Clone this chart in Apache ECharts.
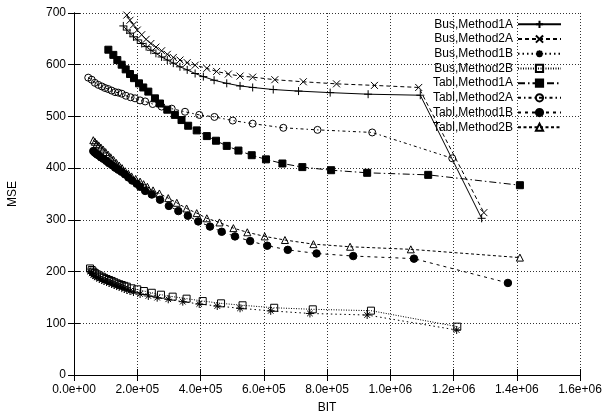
<!DOCTYPE html>
<html>
<head>
<meta charset="utf-8">
<script src="https://cdn.jsdelivr.net/npm/echarts@6/dist/echarts.min.js"></script>
<style>html,body{margin:0;padding:0;background:#fff}#c{width:606px;height:418px}</style>
</head>
<body>
<div id="c"></div>
<script>
const seriesNames = ['Bus,Method1A','Bus,Method2A','Bus,Method1B','Bus,Method2B','Tabl,Method1A','Tabl,Method2A','Tabl,Method1B','Tabl,Method2B'];
const xTickLabels = ['0.0e+00','2.0e+05','4.0e+05','6.0e+05','8.0e+05','1.0e+06','1.2e+06','1.4e+06','1.6e+06'];
const yTickLabels = ['0','100','200','300','400','500','600','700'];

const busM1A_bit = [1.56e5,1.67e5,1.77e5,1.88e5,2.0e5,2.14e5,2.28e5,2.43e5,2.59e5,2.77e5,2.95e5,3.14e5,3.35e5,3.58e5,3.83e5,4.09e5,4.43e5,4.83e5,5.25e5,5.65e5,6.3e5,7.1e5,8.1e5,9.3e5,1.095e6,1.289e6];
const busM1A_mse = [675,667,661,654,648,641,635,628,622,615,609,603,596,590,583,577,570,564,559,556,552,549,546,543,541,303];

const busM2A_bit = [1.67e5,1.77e5,1.88e5,2.0e5,2.14e5,2.28e5,2.43e5,2.59e5,2.77e5,2.95e5,3.14e5,3.35e5,3.58e5,3.83e5,4.2e5,4.51e5,4.88e5,5.25e5,5.65e5,6.35e5,7.25e5,8.3e5,9.5e5,1.09e6,1.296e6];
const busM2A_mse = [696,686,677,667,658,649,641,634,627,620,614,609,604,599,593,587,582,578,576,571,567,563,560,556,314];

const busM1B_bit = [5.06e4,5.6e4,6.1e4,6.6e4,7.2e4,8.0e4,8.8e4,9.5e4,1.03e5,1.11e5,1.19e5,1.27e5,1.35e5,1.43e5,1.51e5,1.59e5,1.67e5,1.77e5,1.88e5,2.09e5,2.35e5,2.63e5,2.98e5,3.44e5,3.96e5,4.53e5,5.25e5,6.22e5,7.46e5,9.27e5,1.21e6];
const busM1B_mse = [200,196.5,193.4,191,188.9,186,183.7,181.8,179.9,178,176,174,172,170.5,169,166.5,164.4,162.5,160.5,156.6,152.8,149.5,146.4,141.8,137.3,133.4,129,124,119,116,87];

const busM2B_bit = [5.06e4,5.6e4,6.1e4,6.6e4,7.2e4,8.0e4,8.8e4,9.5e4,1.03e5,1.11e5,1.19e5,1.27e5,1.35e5,1.43e5,1.51e5,1.59e5,1.67e5,1.82e5,2.0e5,2.21e5,2.46e5,2.75e5,3.12e5,3.56e5,4.07e5,4.65e5,5.33e5,6.33e5,7.55e5,9.39e5,1.212e6];
const busM2B_mse = [206,203,199.8,197,194.7,192.3,190,187.8,185.6,183.7,181.8,179.5,177.3,175.6,174,172.4,170.8,167.6,165.6,162.4,159,155.3,151.5,147.6,143,138.6,134.8,130,127,124.4,93.5];

const tablM1A_bit = [1.086e5,1.244e5,1.37e5,1.507e5,1.634e5,1.771e5,1.897e5,2.055e5,2.19e5,2.35e5,2.56e5,2.72e5,2.95e5,3.19e5,3.4e5,3.61e5,3.88e5,4.2e5,4.49e5,4.83e5,5.2e5,5.62e5,6.07e5,6.59e5,7.22e5,8.13e5,9.27e5,1.12e6,1.41e6];
const tablM1A_mse = [629,619,609,600,591,582,574,564,556,548,535,525,513,503,493,482,473,462,453,443,434,425,417,409,402,396,391,387,367];

const tablM2A_bit = [4.5e4,5.6e4,6.6e4,7.7e4,8.8e4,9.8e4,1.08e5,1.19e5,1.3e5,1.4e5,1.51e5,1.64e5,1.79e5,1.93e5,2.09e5,2.25e5,2.49e5,2.77e5,3.09e5,3.51e5,3.96e5,4.44e5,5.02e5,5.65e5,6.62e5,7.7e5,9.43e5,1.196e6];
const tablM2A_mse = [575,571,565,561,558,555,553,550,547,546,544,540,537,535,531,529,524,519,515,509,503,499,492,486,478,474,469,419];

const tablM1B_bit = [6.1e4,6.6e4,7.2e4,7.7e4,8.5e4,9.3e4,1.02e5,1.1e5,1.2e5,1.3e5,1.4e5,1.5e5,1.61e5,1.72e5,1.84e5,1.98e5,2.09e5,2.25e5,2.46e5,2.72e5,3.0e5,3.3e5,3.6e5,3.93e5,4.3e5,4.67e5,5.09e5,5.57e5,6.11e5,6.76e5,7.67e5,8.83e5,1.075e6,1.372e6];
const tablM1B_mse = [433,430,427,425,421,418,414,410,406,401,397,393,388,382,376,370,364,356,349,339,327,317,308,297,287,277,268,259,250,242,235,230,225,178];

const tablM2B_bit = [6.1e4,6.6e4,7.2e4,7.8e4,8.5e4,9.2e4,1.0e5,1.08e5,1.16e5,1.25e5,1.34e5,1.43e5,1.52e5,1.62e5,1.72e5,1.82e5,1.95e5,2.09e5,2.2e5,2.32e5,2.5e5,2.7e5,2.98e5,3.25e5,3.56e5,3.88e5,4.2e5,4.6e5,5.04e5,5.48e5,6.03e5,6.67e5,7.57e5,8.73e5,1.065e6,1.41e6];
const tablM2B_mse = [454,451,447,444,440,436,431,426,421,416,410,405,400,394,389,384,379,374,369,364,357,351,342,333,322,313,303,295,284,276,268,261,253,248,243,227];

const zip = (a, b) => a.map((v, i) => [v, b[i]]);
const dataSets = [
  zip(busM1A_bit, busM1A_mse), zip(busM2A_bit, busM2A_mse),
  zip(busM1B_bit, busM1B_mse), zip(busM2B_bit, busM2B_mse),
  zip(tablM1A_bit, tablM1A_mse), zip(tablM2A_bit, tablM2A_mse),
  zip(tablM1B_bit, tablM1B_mse), zip(tablM2B_bit, tablM2B_mse)
];

const FONT = 'Liberation Sans, Arial, sans-serif';
const styles = [
  {symbol: 'path://M0,5L10,5M5,0L5,10', size: 8, fill: 'rgba(0,0,0,0)', dash: 'solid'},
  {symbol: 'path://M0,0L10,10M10,0L0,10', size: 7, fill: 'rgba(0,0,0,0)', dash: [4,3]},
  {symbol: 'path://M0,5L10,5M5,0L5,10M1.5,1.5L8.5,8.5M8.5,1.5L1.5,8.5', size: 8, fill: 'rgba(0,0,0,0)', dash: [1.5,3]},
  {symbol: 'rect', size: 7, fill: 'rgba(0,0,0,0)', dash: [1,1.5]},
  {symbol: 'rect', size: 7, fill: '#000', dash: [7,3,1.5,3]},
  {symbol: 'circle', size: 7, fill: 'rgba(0,0,0,0)', dash: [3,3,1.5,3]},
  {symbol: 'circle', size: 7.5, fill: '#000', dash: [3,4]},
  {symbol: 'triangle', size: 7, fill: 'rgba(0,0,0,0)', dash: [3,2.5]}
];

const series = seriesNames.map((name, i) => ({
  name: name,
  type: 'line',
  data: dataSets[i],
  symbol: styles[i].symbol,
  symbolSize: styles[i].size,
  showAllSymbol: true,
  lineStyle: {color: '#000', width: 1, type: styles[i].dash},
  itemStyle: {color: styles[i].fill, borderColor: '#000', borderWidth: 1},
  emphasis: {disabled: true},
  animation: false
}));

const axisLineStyle = {show: true, lineStyle: {color: '#000', width: 1}};
const gridLine = {show: true, lineStyle: {color: '#333', width: 1, type: [1, 2]}};

const chart = echarts.init(document.getElementById('c'), null, {renderer: 'canvas'});
chart.setOption({
  animation: false,
  backgroundColor: '#fff',
  grid: {left: 74, right: 26, top: 13, bottom: 43, containLabel: false, outerBoundsMode: 'none'},
  legend: {
    show: true,
    orient: 'vertical',
    align: 'right',
    right: 44,
    top: 17,
    padding: 0,
    itemGap: 0,
    itemWidth: 43,
    itemHeight: 9,
    data: seriesNames,
    textStyle: {fontFamily: FONT, fontSize: 12, color: '#000', lineHeight: 14.7},
    selectedMode: false
  },
  xAxis: [
    {
      type: 'value', min: 0, max: 1.6e6, interval: 2e5,
      name: 'BIT', nameLocation: 'middle', nameGap: 27,
      nameTextStyle: {fontFamily: FONT, fontSize: 12, color: '#000'},
      axisLine: axisLineStyle,
      axisTick: {show: true, inside: true, length: 6, lineStyle: {color: '#000'}},
      axisLabel: {fontFamily: FONT, fontSize: 12, color: '#000', margin: 9,
        formatter: v => xTickLabels[Math.round(v / 2e5)]},
      splitLine: gridLine
    },
    {
      type: 'value', position: 'top', min: 0, max: 1.6e6, interval: 2e5,
      axisLine: axisLineStyle,
      axisTick: {show: true, inside: true, length: 6, lineStyle: {color: '#000'}},
      axisLabel: {show: false},
      splitLine: {show: false}
    }
  ],
  yAxis: [
    {
      type: 'value', min: 0, max: 700, interval: 100,
      name: 'MSE', nameLocation: 'middle', nameGap: 55,
      nameTextStyle: {fontFamily: FONT, fontSize: 12, color: '#000'},
      axisLine: axisLineStyle,
      axisTick: {show: true, inside: true, length: 6, lineStyle: {color: '#000'}},
      axisLabel: {fontFamily: FONT, fontSize: 12, color: '#000', margin: 8,
        formatter: v => yTickLabels[Math.round(v / 100)]},
      splitLine: gridLine
    },
    {
      type: 'value', position: 'right', min: 0, max: 700, interval: 100,
      axisLine: axisLineStyle,
      axisTick: {show: true, inside: true, length: 6, lineStyle: {color: '#000'}},
      axisLabel: {show: false},
      splitLine: {show: false}
    }
  ],
  series: series
});
</script>
</body>
</html>
